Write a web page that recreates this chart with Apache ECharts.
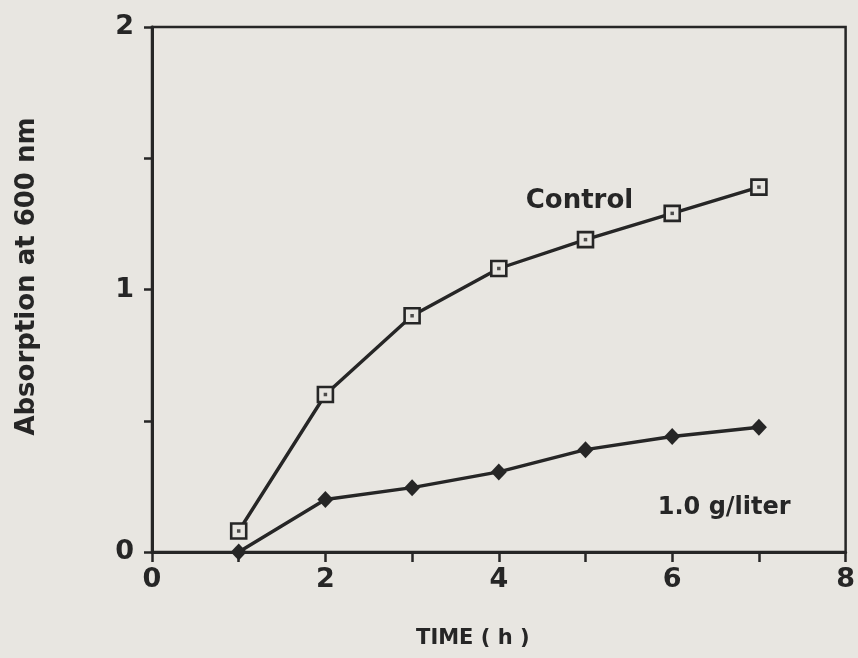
<!DOCTYPE html>
<html>
<head>
<meta charset="utf-8">
<script src="https://cdn.jsdelivr.net/npm/echarts@6/dist/echarts.min.js"></script>
<style>
  html, body { margin: 0; padding: 0; background: #e8e6e1; }
  #chart { width: 858px; height: 658px; }
</style>
</head>
<body>
<div id="chart"></div>
<script>
// Growth curves: absorbance at 600 nm over time
const hours = [1, 2, 3, 4, 5, 6, 7];
const controlAbs = [0.08, 0.60, 0.90, 1.08, 1.19, 1.29, 1.39];
const treatedAbs = [0.00, 0.20, 0.245, 0.305, 0.39, 0.44, 0.475];
const xTickLabels = ['0', '', '2', '', '4', '', '6', '', '8'];
const yTickLabels = { 0: '0', 1: '1', 2: '2' };
// Curve labels, placed in data coordinates
const controlLabel = { text: 'Control', at: [4.93, 1.335] };
const treatedLabel = { text: '1.0 g/liter', at: [6.6, 0.17] };

const ink = '#262626';
const paper = '#e8e6e1';
const font = 'DejaVu Sans';

const pairs = (xs, ys) => xs.map((x, i) => [x, ys[i]]);

const chart = echarts.init(document.getElementById('chart'), null, { renderer: 'canvas' });

chart.setOption({
  backgroundColor: paper,
  animation: false,
  textStyle: { fontFamily: font, color: ink, fontWeight: 'bold' },
  grid: {
    left: 152, right: 6, top: 27, bottom: 106,
    show: true, borderColor: ink, borderWidth: 2.5, backgroundColor: 'transparent'
  },
  xAxis: {
    type: 'value', min: 0, max: 8, interval: 1,
    name: 'TIME ( h )', nameLocation: 'middle', nameGap: 76,
    nameTextStyle: { fontSize: 21, fontWeight: 'bold', color: ink, fontFamily: font, padding: [0, 52, 0, 0] },
    axisLine: { lineStyle: { color: ink, width: 3 } },
    axisTick: { show: true, length: 10, lineStyle: { color: ink, width: 2.5 } },
    axisLabel: {
      margin: 14, fontSize: 27, fontWeight: 'bold', color: ink, fontFamily: font,
      formatter: v => xTickLabels[Math.round(v)] || ''
    },
    splitLine: { show: false }
  },
  yAxis: {
    type: 'value', min: 0, max: 2, interval: 0.5,
    name: 'Absorption at 600 nm', nameLocation: 'middle', nameGap: 112, nameRotate: 90,
    nameTextStyle: { fontSize: 26, fontWeight: 'bold', color: ink, fontFamily: font, padding: [0, 0, 0, 26] },
    axisLine: { lineStyle: { color: ink, width: 3 } },
    axisTick: { show: true, length: 8, lineStyle: { color: ink, width: 2.5 } },
    axisLabel: {
      margin: 18, fontSize: 27, fontWeight: 'bold', color: ink, fontFamily: font,
      formatter: v => (yTickLabels[v] !== undefined ? yTickLabels[v] : '')
    },
    splitLine: { show: false }
  },
  series: [
    {
      name: 'Control', type: 'line', data: pairs(hours, controlAbs),
      lineStyle: { color: ink, width: 3.4 },
      symbol: 'rect', symbolSize: 15,
      itemStyle: { color: paper, borderColor: ink, borderWidth: 2.6 },
      z: 3,
      markPoint: {
        symbol: 'circle', symbolSize: 0,
        label: { show: true, formatter: controlLabel.text, fontSize: 26, fontWeight: 'bold', color: ink, fontFamily: font },
        data: [{ coord: controlLabel.at }]
      }
    },
    {
      name: 'Control centre', type: 'scatter', data: pairs(hours, controlAbs),
      symbol: 'rect', symbolSize: 3.5, itemStyle: { color: ink }, z: 4, silent: true
    },
    {
      name: '1.0 g/liter', type: 'line', data: pairs(hours, treatedAbs),
      lineStyle: { color: ink, width: 3.4 },
      symbol: 'diamond', symbolSize: [16, 17],
      itemStyle: { color: ink, borderColor: ink, borderWidth: 0 },
      z: 3,
      markPoint: {
        symbol: 'circle', symbolSize: 0,
        label: { show: true, formatter: treatedLabel.text, fontSize: 24, fontWeight: 'bold', color: ink, fontFamily: font },
        data: [{ coord: treatedLabel.at }]
      }
    }
  ]
});
</script>
</body>
</html>
